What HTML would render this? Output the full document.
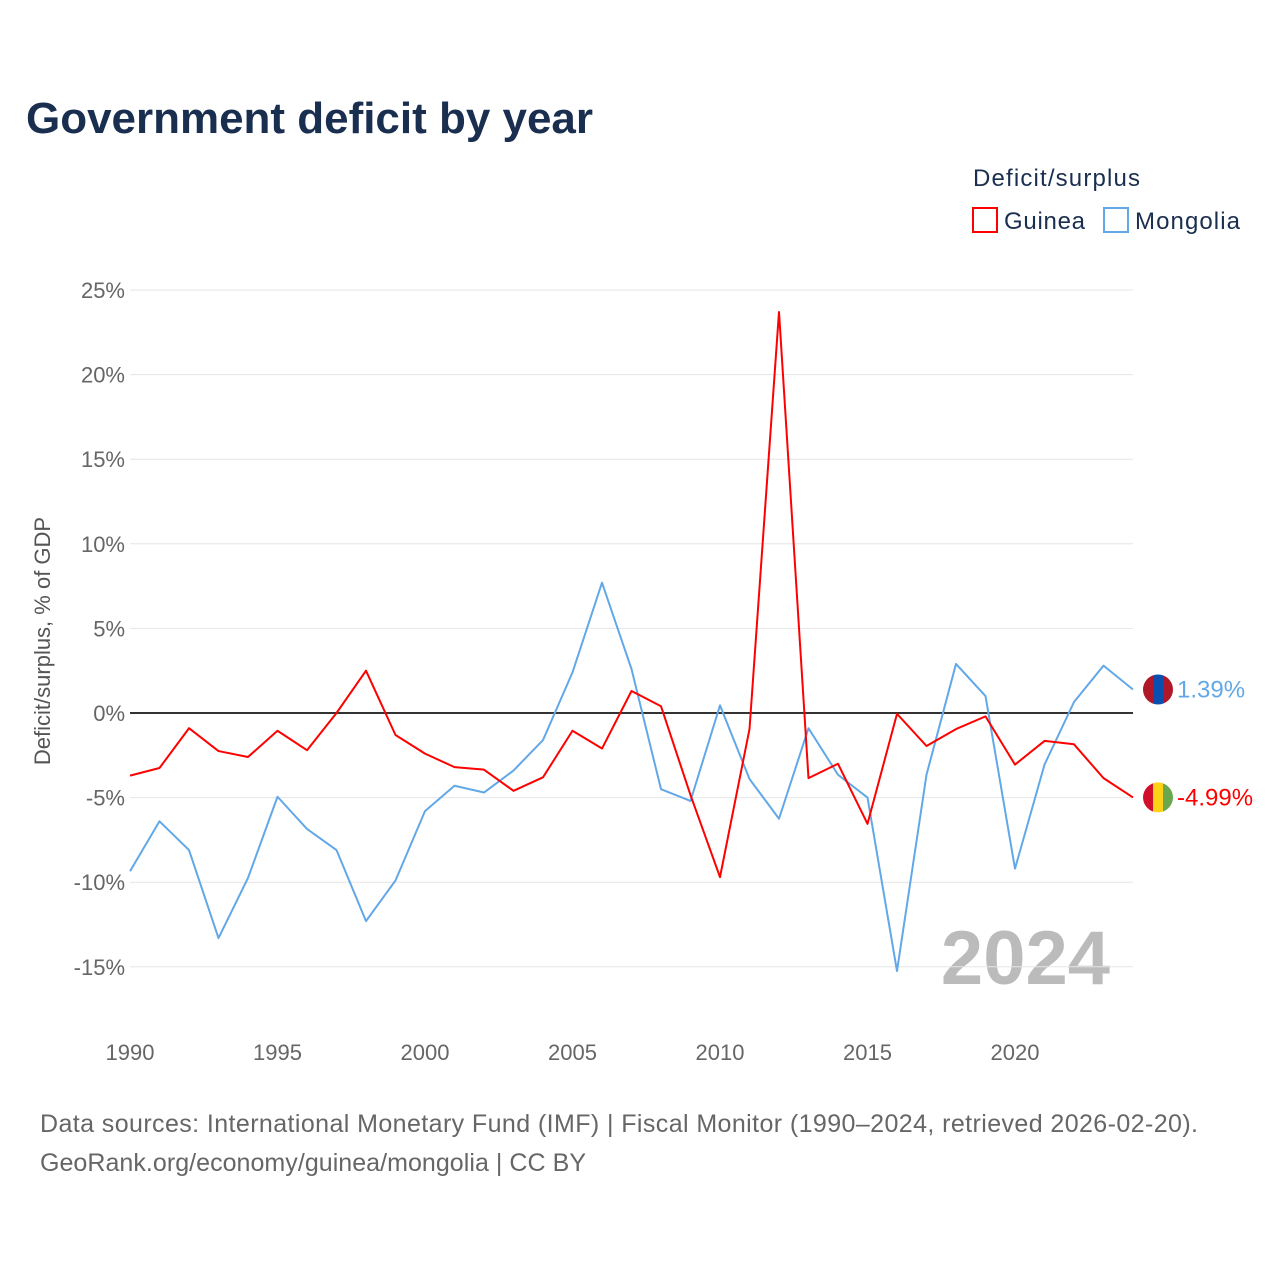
<!DOCTYPE html>
<html><head><meta charset="utf-8"><style>
body{margin:0;background:#fff;font-family:"Liberation Sans",sans-serif;}
#wrap{position:relative;width:1280px;height:1280px;overflow:hidden;}
</style></head><body>
<div id="wrap">
<svg id="chart" width="1280" height="1280">
<text x="26" y="133" font-size="44" font-weight="bold" fill="#1a2e4f" textLength="567">Government deficit by year</text>
<text x="973" y="186" font-size="24" fill="#1a2e4f" textLength="167">Deficit/surplus</text>
<g><rect x="973" y="208" width="24" height="24" fill="none" stroke="#ff0000" stroke-width="2"/><text x="1004" y="229" font-size="24" fill="#1a2e4f" textLength="81">Guinea</text></g>
<g><rect x="1104" y="208" width="24" height="24" fill="none" stroke="#62a8e8" stroke-width="2"/><text x="1135" y="229" font-size="24" fill="#1a2e4f" textLength="105">Mongolia</text></g>
<text transform="translate(50,641) rotate(-90)" text-anchor="middle" font-size="22" fill="#555">Deficit/surplus, % of GDP</text>
<text x="1110" y="984" text-anchor="end" font-size="76" font-weight="bold" fill="#bbb">2024</text>
<g id="grid"></g><g id="lines"></g>
<text x="40" y="1132" font-size="25" fill="#666" textLength="1158">Data sources: International Monetary Fund (IMF) | Fiscal Monitor (1990–2024, retrieved 2026-02-20).</text>
<text x="40" y="1171" font-size="25" fill="#666" textLength="546">GeoRank.org/economy/guinea/mongolia | CC BY</text>
</svg></div>
<script>
const years=[1990,1991,1992,1993,1994,1995,1996,1997,1998,1999,2000,2001,2002,2003,2004,2005,2006,2007,2008,2009,2010,2011,2012,2013,2014,2015,2016,2017,2018,2019,2020,2021,2022,2023,2024];
const guinea=[-3.7,-3.25,-0.9,-2.25,-2.6,-1.05,-2.2,0,2.5,-1.3,-2.4,-3.2,-3.35,-4.6,-3.8,-1.05,-2.1,1.3,0.4,-4.85,-9.7,-0.95,23.7,-3.85,-3.0,-6.55,-0.05,-1.95,-0.95,-0.2,-3.05,-1.65,-1.85,-3.85,-4.99];
const mongolia=[-9.35,-6.4,-8.1,-13.3,-9.75,-4.95,-6.85,-8.1,-12.3,-9.9,-5.8,-4.3,-4.7,-3.4,-1.6,2.4,7.7,2.6,-4.5,-5.2,0.45,-3.9,-6.25,-0.9,-3.65,-5.0,-15.25,-3.65,2.9,1.0,-9.2,-3.05,0.65,2.8,1.39];
const yTicks=[25,20,15,10,5,0,-5,-10,-15];
const xTicks=[1990,1995,2000,2005,2010,2015,2020];
const NS="http://www.w3.org/2000/svg";
const X=v=>130+(v-1990)*29.5, Y=v=>713-v*16.92;
const g=document.getElementById('grid'), L=document.getElementById('lines');
function mk(tag,at,p){const e=document.createElementNS(NS,tag);for(const k in at)e.setAttribute(k,at[k]);p.appendChild(e);return e;}
yTicks.forEach(t=>{
 const ln=mk('line',{x1:130,x2:1133,y1:Y(t),y2:Y(t),stroke:t===0?'#333':'#e6e6e6','stroke-width':t===0?2:1},g);
 
 
 const tx=mk('text',{x:125,y:Y(t)+8,'text-anchor':'end','font-size':22,fill:'#666'},g);
 tx.textContent=t+'%';
 
 
});
xTicks.forEach(t=>{
 const tx=mk('text',{x:X(t),y:1060,'text-anchor':'middle','font-size':22,fill:'#666'},g);
 tx.textContent=t;
 
 
});
function series(vals,color,name){
 const p=mk('polyline',{points:vals.map((v,i)=>X(years[i])+','+Y(v)).join(' '),fill:'none',stroke:color,'stroke-width':2,'stroke-linejoin':'round'},L);
 
 
}
series(mongolia,'#62a8e8','mongolia');
series(guinea,'#ff0000','guinea');
function endLabel(v,color,name,stripes){
 const y=Y(v), cx=1158;
 const f=mk('g',{},L);
 
 
 const cp=mk('clipPath',{id:'c'+name},f); mk('circle',{cx:cx,cy:y,r:15},cp);
 stripes.forEach((c,i)=>mk('rect',{x:cx-15+i*10,y:y-15,width:10,height:30,fill:c,'clip-path':'url(#c'+name+')'},f));
 const t=mk('text',{x:1177,y:y+8,'font-size':24,fill:color},L);
 t.textContent=v.toFixed(2)+'%';
 
 
}
endLabel(mongolia[mongolia.length-1],'#62a8e8','mongolia',['#b0182a','#0a4fb0','#b0182a']);
endLabel(guinea[guinea.length-1],'#ff0000','guinea',['#d0102a','#fcd116','#6aa84f']);
</script>
</body></html>
